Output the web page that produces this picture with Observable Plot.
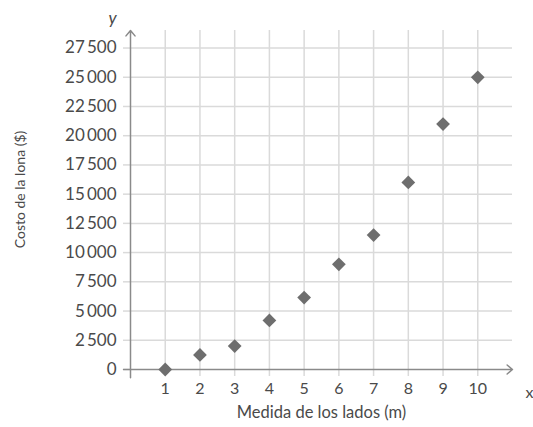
<!DOCTYPE html>
<html><head><meta charset="utf-8">
<script src="https://cdn.jsdelivr.net/npm/d3@7"></script>
<script src="https://cdn.jsdelivr.net/npm/@observablehq/plot@0.6"></script>
<style>body{margin:0;background:#fff;} #chart svg{display:block;}</style>
</head><body><div id="chart"></div>
<script>
const sides = [1, 2, 3, 4, 5, 6, 7, 8, 9, 10];
const costs = [0, 1250, 2000, 4200, 6150, 9000, 11500, 16000, 21000, 25000];
const yTicks = [0, 2500, 5000, 7500, 10000, 12500, 15000, 17500, 20000, 22500, 25000, 27500];
const yTickLabels = ["0", "2\u2009500", "5\u2009000", "7\u2009500", "10\u2009000", "12\u2009500", "15\u2009000", "17\u2009500", "20\u2009000", "22\u2009500", "25\u2009000", "27\u2009500"];
const xTicks = [1, 2, 3, 4, 5, 6, 7, 8, 9, 10];
const xTitle = "Medida de los lados (m)";
const yTitle = "Costo de la lona ($)";
const xAxisName = "x";
const yAxisName = "y";

const data = sides.map((x, i) => ({x, y: costs[i]}));
const gridC = "#dadada", axisC = "#8a8a8a", textC = "#4a4a4a";

const chart = Plot.plot({
  width: 533, height: 427,
  marginLeft: 130, marginRight: 21, marginTop: 30, marginBottom: 58,
  style: {fontFamily: "Lato", fontSize: "16px", color: textC, background: "#fff"},
  x: {domain: [0, 11]},
  y: {domain: [0, 29000]},
  marks: [
    Plot.ruleX(xTicks, {y1: 0, y2: 29000, stroke: gridC, strokeWidth: 1.5}),
    Plot.ruleY(yTicks.slice(1), {x1: 0, x2: 11, stroke: gridC, strokeWidth: 1.5}),
    Plot.axisX(xTicks, {tickSize: 7, tickPadding: 6, stroke: gridC, strokeWidth: 1.5, fill: textC, label: null, fontSize: 16}),
    Plot.axisY(yTicks, {tickSize: 7, tickPadding: 7, stroke: gridC, strokeWidth: 1.5, fill: textC, label: null, fontSize: 17,
      tickFormat: (d) => yTickLabels[yTicks.indexOf(d)]}),
    Plot.arrow([0], {x1: -0.2, y1: 0, x2: 11, y2: 0, stroke: axisC, strokeWidth: 1.5, headLength: 7, headAngle: 80}),
    Plot.arrow([0], {x1: 0, y1: -700, x2: 0, y2: 29000, stroke: axisC, strokeWidth: 1.5, headLength: 7, headAngle: 80}),
    Plot.dot(data, {x: "x", y: "y", symbol: "diamond2", r: 6.2, fill: "#6e6e6e", stroke: "none"}),
    Plot.text([xAxisName], {x: 11, y: 0, text: d => d, dx: 17, dy: 23, fill: textC, fontSize: 16}),
    Plot.text([yAxisName], {x: 0, y: 29000, text: d => d, dx: -18, dy: -12, fill: textC, fontSize: 17, fontStyle: "italic"}),
    Plot.text([xTitle], {frameAnchor: "bottom", text: d => d, dy: 48, fill: textC, fontSize: 16.5}),
    Plot.text([yTitle], {x: 0, y: 15400, text: d => d, dx: -110, rotate: -90, fill: textC, fontSize: 14})
  ]
});
document.getElementById("chart").append(chart);
</script>
</body></html>
